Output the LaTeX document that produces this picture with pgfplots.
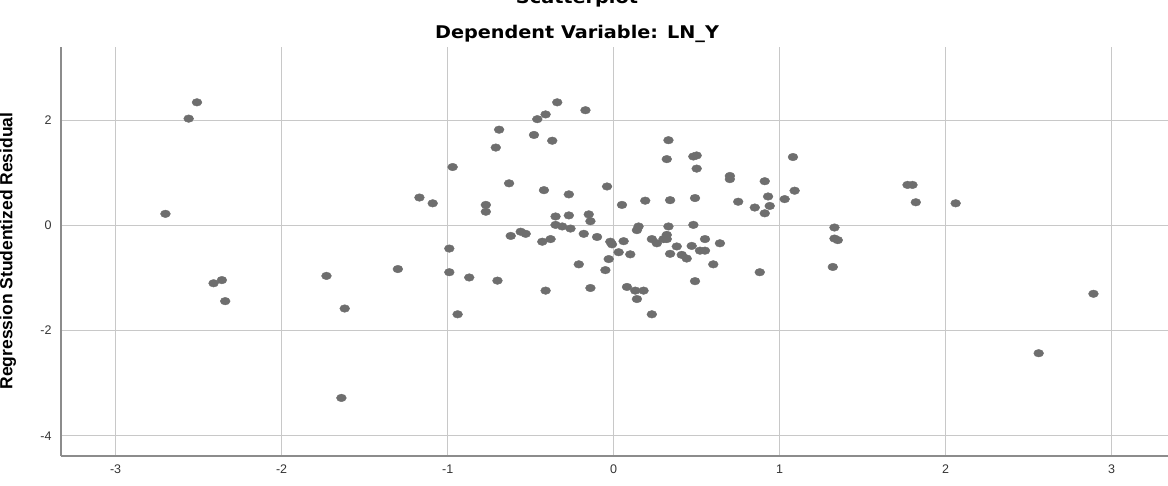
\documentclass[border=0pt]{standalone}
\usepackage{graphicx}
\usepackage{pgfplots}
\pgfplotsset{compat=1.18}
\usepackage{fontspec}
\setmainfont{Liberation Sans}
\newfontfamily\titlefont{DejaVu Sans}
\definecolor{markgray}{HTML}{6E6E6E}
\definecolor{gridgray}{HTML}{C8C8C8}
\definecolor{axisgray}{HTML}{8C8C8C}
\begin{document}
\begin{tikzpicture}[x=1pt,y=1pt]
\begin{axis}[
  at={(61pt,30pt)}, anchor=south west,
  scale only axis, width=1107pt, height=409pt,
  xmin=-3.329, xmax=3.339, ymin=-4.384, ymax=3.392,
  xtick={-3,-2,-1,0,1,2,3}, ytick={-4,-2,0,2},
  axis x line*=bottom, axis y line*=left,
  axis line style={draw=axisgray, line width=1.8pt, -},
  major tick length=0pt,
  grid=major, grid style={draw=gridgray, line width=1.4pt},
  /pgf/number format/assume math mode=true,
  ticklabel style={font=\fontsize{12.5}{14}\selectfont, text=black!80},
  xticklabel style={yshift=-5pt},
  yticklabel style={xshift=-6pt},
  clip=false,
]
\addplot[only marks, mark=*, mark size=3.8pt, mark options={draw=markgray, fill=markgray, xscale=1.3}] coordinates {
(-2.51,2.34) (-2.56,2.03) (-2.70,0.22) (-2.41,-1.10) (-2.36,-1.04) (-2.34,-1.44)
(-1.73,-0.96) (-1.62,-1.58) (-1.64,-3.28) (-1.30,-0.83) (-1.17,0.53) (-1.09,0.42)
(-0.97,1.11) (-0.99,-0.44) (-0.99,-0.89) (-0.87,-0.99) (-0.94,-1.69) (-0.77,0.39)
(-0.77,0.26) (-0.69,1.82) (-0.71,1.48) (-0.70,-1.05) (-0.63,0.80) (-0.62,-0.20)
(-0.56,-0.12) (-0.53,-0.16) (-0.48,1.72) (-0.46,2.02) (-0.41,2.11) (-0.34,2.34)
(-0.37,1.61) (-0.42,0.67) (-0.43,-0.31) (-0.38,-0.26) (-0.41,-1.24) (-0.35,0.17)
(-0.35,0.01) (-0.31,-0.02) (-0.26,-0.06) (-0.27,0.19) (-0.27,0.59) (-0.17,2.19)
(-0.21,-0.74) (-0.18,-0.16) (-0.15,0.21) (-0.14,0.08) (-0.14,-1.19) (-0.10,-0.22)
(-0.04,0.74) (-0.05,-0.85) (-0.03,-0.64) (-0.02,-0.31) (-0.01,-0.36) (0.03,-0.51)
(0.06,-0.30) (0.10,-0.55) (0.05,0.39) (0.08,-1.17) (0.13,-1.24) (0.18,-1.24)
(0.14,-1.40) (0.23,-1.69) (0.14,-0.09) (0.15,-0.02) (0.19,0.47) (0.23,-0.26)
(0.26,-0.34) (0.30,-0.26) (0.32,-0.18) (0.33,-0.02) (0.32,-0.26) (0.32,1.26)
(0.33,1.62) (0.34,0.48) (0.34,-0.54) (0.38,-0.40) (0.41,-0.56) (0.44,-0.63)
(0.47,-0.39) (0.52,-0.48) (0.55,-0.48) (0.55,-0.26) (0.64,-0.34) (0.60,-0.74)
(0.49,-1.06) (0.48,1.31) (0.50,1.33) (0.50,1.08) (0.49,0.52) (0.48,0.01)
(0.70,0.94) (0.70,0.88) (0.75,0.45) (0.91,0.84) (0.93,0.55) (0.85,0.34)
(0.91,0.23) (0.94,0.37) (1.03,0.50) (1.09,0.66) (1.08,1.30) (0.88,-0.89)
(1.33,-0.04) (1.33,-0.25) (1.35,-0.28) (1.32,-0.79) (1.77,0.77) (1.80,0.77)
(1.82,0.44) (2.06,0.42) (2.89,-1.30) (2.56,-2.43)
};
\end{axis}
\node[font=\titlefont\bfseries\fontsize{17.5}{20}\selectfont, anchor=base] at (577,482) {\scalebox{1.1}[1]{Scatterplot}};
\node[font=\titlefont\bfseries\fontsize{17.5}{20}\selectfont, anchor=base] at (577,447) {\scalebox{1.1}[1]{Dependent Variable: LN\_Y}};
\node[font=\bfseries\fontsize{17.5}{20}\selectfont, rotate=90, anchor=center] at (8,235) {Regression Studentized Residual};
\pgfresetboundingbox
\useasboundingbox (0,0) rectangle (1168,486);
\end{tikzpicture}
\end{document}
